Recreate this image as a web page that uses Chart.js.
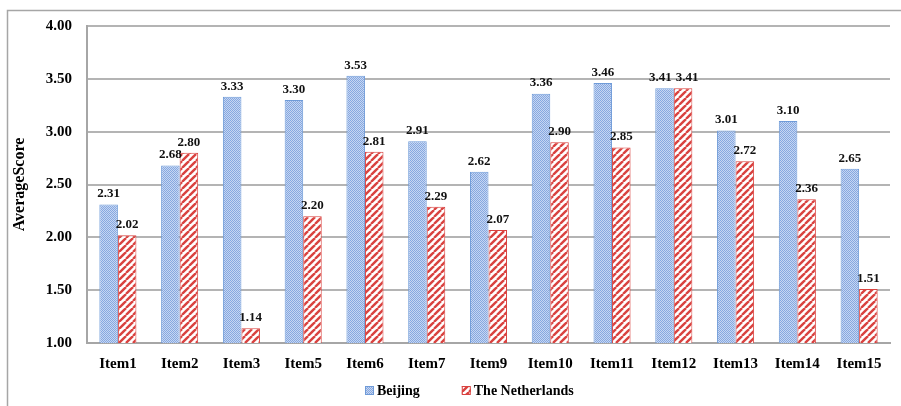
<!DOCTYPE html>
<html>
<head>
<meta charset="utf-8">
<script src="https://cdn.jsdelivr.net/npm/chart.js@4.4.0/dist/chart.umd.min.js"></script>
<style>
  html, body { margin: 0; padding: 0; background: #fff; }
  #wrap { width: 901px; height: 406px; position: relative; }
</style>
</head>
<body>
<div id="wrap"><canvas id="myChart" width="901" height="406"></canvas></div>
<script>
// Datos del gráfico
const items = ['Item1', 'Item2', 'Item3', 'Item5', 'Item6', 'Item7', 'Item9', 'Item10', 'Item11', 'Item12', 'Item13', 'Item14', 'Item15'];
const beijing = [2.31, 2.68, 3.33, 3.30, 3.53, 2.91, 2.62, 3.36, 3.46, 3.41, 3.01, 3.10, 2.65];
const netherlands = [2.02, 2.80, 1.14, 2.20, 2.81, 2.29, 2.07, 2.90, 2.85, 3.41, 2.72, 2.36, 1.51];

const serif = '"Liberation Serif", "Times New Roman", serif';

// Patrón punteado azul
function dotPattern() {
    const c = document.createElement('canvas');
    c.width = 2; c.height = 2;
    const g = c.getContext('2d');
    g.fillStyle = '#c6d6f2';
    g.fillRect(0, 0, 2, 2);
    g.fillStyle = '#86a8e0';
    g.fillRect(0, 0, 1, 1);
    g.fillRect(1, 1, 1, 1);
    return g.createPattern(c, 'repeat');
}

// Patrón de rayas rojas diagonales
function stripePattern() {
    const s = 7;
    const c = document.createElement('canvas');
    c.width = s; c.height = s;
    const g = c.getContext('2d');
    g.fillStyle = '#ffffff';
    g.fillRect(0, 0, s, s);
    g.strokeStyle = '#d9423f';
    g.lineWidth = 2.4;
    for (const o of [-s, 0, s]) {
        g.beginPath();
        g.moveTo(o, s);
        g.lineTo(o + s, 0);
        g.stroke();
    }
    return g.createPattern(c, 'repeat');
}

// Marco superior e izquierdo
const framePlugin = {
    id: 'frame',
    beforeDraw(chart) {
        const ctx = chart.ctx;
        ctx.save();
        ctx.strokeStyle = '#a6a6a6';
        ctx.lineWidth = 1.5;
        ctx.beginPath();
        ctx.moveTo(7.5, 406);
        ctx.lineTo(7.5, 10.5);
        ctx.lineTo(901, 10.5);
        ctx.stroke();
        ctx.restore();
    }
};

// Etiquetas de valor encima de las barras (se separan si se pisan)
const valueLabels = {
    id: 'valueLabels',
    afterDatasetsDraw(chart) {
        const ctx = chart.ctx;
        ctx.save();
        ctx.font = 'bold 13px ' + serif;
        ctx.fillStyle = '#111';
        ctx.textAlign = 'center';
        ctx.textBaseline = 'bottom';
        const a = chart.getDatasetMeta(0).data;
        const b = chart.getDatasetMeta(1).data;
        items.forEach((_, j) => {
            const ta = beijing[j].toFixed(2);
            const tb = netherlands[j].toFixed(2);
            let xa = a[j].x, xb = b[j].x;
            if (Math.abs(a[j].y - b[j].y) < 12) {
                const need = (ctx.measureText(ta).width + ctx.measureText(tb).width) / 2 + 4;
                const over = need - (xb - xa);
                if (over > 0) { xa -= over / 2; xb += over / 2; }
            }
            ctx.fillText(ta, xa, a[j].y - 4);
            ctx.fillText(tb, xb, b[j].y - 4);
        });
        ctx.restore();
    }
};

// Leyenda dibujada a mano debajo del eje
const bottomLegend = {
    id: 'bottomLegend',
    afterDraw(chart) {
        const ctx = chart.ctx;
        ctx.save();
        ctx.font = 'bold 14px ' + serif;
        ctx.textBaseline = 'middle';
        ctx.textAlign = 'left';
        const y = 391;
        let x = 365;
        chart.data.datasets.forEach(ds => {
            ctx.fillStyle = ds.backgroundColor;
            ctx.fillRect(x, y - 5, 9, 9);
            ctx.strokeStyle = ds.borderColor;
            ctx.lineWidth = 1;
            ctx.strokeRect(x + 0.5, y - 4.5, 8, 8);
            ctx.fillStyle = '#000';
            ctx.fillText(ds.label, x + 12, y);
            x += 12 + ctx.measureText(ds.label).width + 42;
        });
        ctx.restore();
    }
};

const ctx = document.getElementById('myChart').getContext('2d');
new Chart(ctx, {
    type: 'bar',
    data: {
        labels: items,
        datasets: [{
            label: 'Beijing',
            data: beijing,
            backgroundColor: dotPattern(),
            borderColor: '#6f9bd8',
            borderWidth: 1,
            categoryPercentage: 0.6,
            barPercentage: 1.0
        }, {
            label: 'The Netherlands',
            data: netherlands,
            backgroundColor: stripePattern(),
            borderColor: '#d9423f',
            borderWidth: 1,
            categoryPercentage: 0.6,
            barPercentage: 1.0
        }]
    },
    options: {
        responsive: false,
        animation: false,
        devicePixelRatio: 1,
        layout: { padding: { left: 8, right: 11, top: 26, bottom: 33 } },
        plugins: {
            tooltip: { enabled: false },
            legend: { display: false }
        },
        scales: {
            x: {
                afterFit(scale) { scale.height = 30; },
                grid: { display: false },
                border: { display: true, color: '#a6a6a6', width: 2 },
                ticks: {
                    font: { family: serif, size: 15, weight: 'bold' },
                    color: '#000',
                    padding: 4
                }
            },
            y: {
                min: 1,
                max: 4,
                afterFit(scale) { scale.width = 79; },
                grid: { color: '#b4b4b4', lineWidth: 2, drawTicks: false },
                border: { display: true, color: '#a6a6a6', width: 2 },
                ticks: {
                    stepSize: 0.5,
                    padding: 15,
                    font: { family: serif, size: 15, weight: 'bold' },
                    color: '#000',
                    callback: v => v.toFixed(2)
                },
                title: {
                    display: true,
                    text: 'AverageScore',
                    font: { family: serif, size: 16, weight: 'bold' },
                    color: '#000',
                    padding: { top: 2, bottom: 0 }
                }
            }
        }
    },
    plugins: [framePlugin, valueLabels, bottomLegend]
});
</script>
</body>
</html>
